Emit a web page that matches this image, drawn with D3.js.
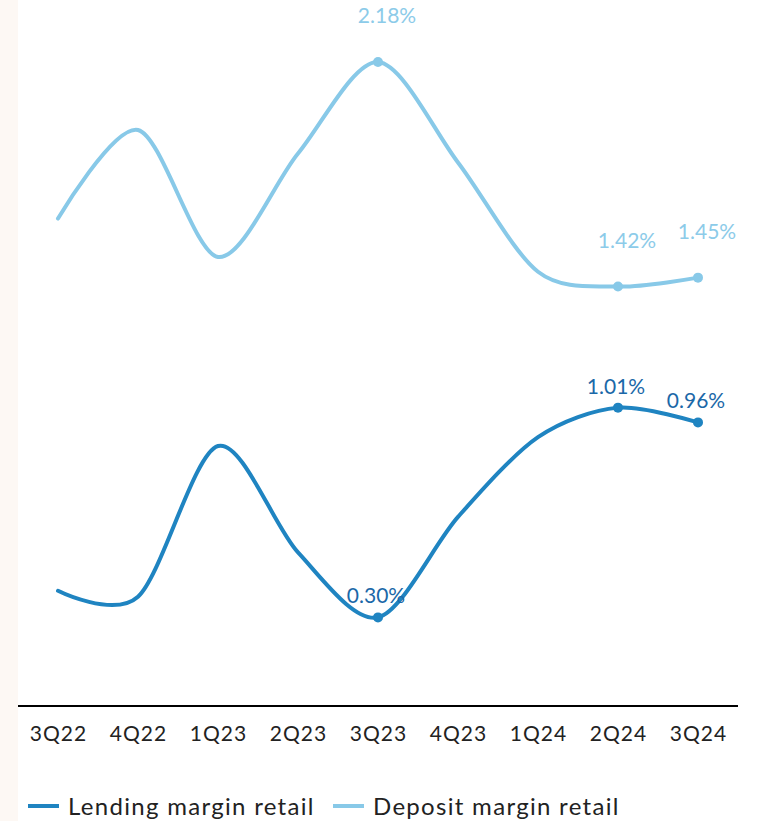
<!DOCTYPE html>
<html>
<head>
<meta charset="utf-8">
<script src="https://cdn.jsdelivr.net/npm/d3@7"></script>
<style>
  html, body { margin: 0; padding: 0; background: #ffffff; }
  svg { display: block; font-family: Lato, "Open Sans", sans-serif; }
</style>
</head>
<body>
<svg id="chart" width="761" height="821"></svg>
<script>
// Quarterly retail margins (%)
const quarters = ["3Q22", "4Q22", "1Q23", "2Q23", "3Q23", "4Q23", "1Q24", "2Q24", "3Q24"];
const lendingMargin = [0.39, 0.37, 0.88, 0.52, 0.30, 0.64, 0.91, 1.01, 0.96];
const depositMargin = [1.65, 1.95, 1.52, 1.87, 2.18, 1.84, 1.47, 1.42, 1.45];
// Quarters whose values are printed on the chart
const labelledQuarters = ["3Q23", "2Q24", "3Q24"];
const seriesNames = ["Lending margin retail", "Deposit margin retail"];

const W = 761, H = 821;
const plot = { left: 18, right: 738, top: 62, bottom: 706 };

const svg = d3.select("#chart");

// pale side strip
svg.append("rect").attr("x", 0).attr("y", 0).attr("width", 18).attr("height", H)
  .attr("fill", "#fdf8f4");

const x = d3.scalePoint().domain(quarters).range([plot.left, plot.right]).padding(0.5);
const y = d3.scaleLinear().domain([0, 2.18]).range([plot.bottom, plot.top]);

const series = [
  { name: seriesNames[0], values: lendingMargin, color: "#1f84c1", labelColor: "#1b68a8", labelDy: -14, labelDx: -2 },
  { name: seriesNames[1], values: depositMargin, color: "#88c9e8", labelColor: "#8ccbe9", labelDy: -39, labelDx: 9 }
];

const line = d3.line()
  .x((d, i) => x(quarters[i]))
  .y(d => y(d))
  .curve(d3.curveCardinal.tension(0.1));

series.forEach(s => {
  svg.append("path")
    .datum(s.values)
    .attr("d", line)
    .attr("fill", "none")
    .attr("stroke", s.color)
    .attr("stroke-width", 4)
    .attr("stroke-linecap", "round");

  const pts = quarters.map((q, i) => ({ q, v: s.values[i] }))
    .filter(p => labelledQuarters.includes(p.q));

  svg.selectAll(null).data(pts).enter().append("circle")
    .attr("cx", d => x(d.q)).attr("cy", d => y(d.v)).attr("r", 5)
    .attr("fill", s.color);

  svg.selectAll(null).data(pts).enter().append("text")
    .attr("x", d => x(d.q) + s.labelDx)
    .attr("y", d => y(d.v) + s.labelDy)
    .attr("text-anchor", "middle")
    .attr("font-size", 21)
    .attr("fill", s.labelColor)
    .text(d => d.v.toFixed(2) + "%");
});

// category axis
const xAxis = svg.append("g")
  .attr("transform", `translate(0,${plot.bottom})`)
  .call(d3.axisBottom(x).tickSize(0).tickPadding(20));
xAxis.select(".domain").attr("d", `M${plot.left},0H${plot.right}`)
  .attr("stroke", "#000").attr("stroke-width", 2);
xAxis.selectAll("text")
  .attr("font-size", 21)
  .attr("font-family", "Lato, sans-serif")
  .attr("letter-spacing", 1)
  .attr("fill", "#222");

// legend
const legend = svg.append("g").attr("transform", "translate(28,806)");
const legendX = [0, 305];
series.forEach((s, i) => {
  const g = legend.append("g").attr("transform", `translate(${legendX[i]},0)`);
  g.append("line").attr("x1", 0).attr("x2", 31).attr("y1", 0).attr("y2", 0)
    .attr("stroke", s.color).attr("stroke-width", 4);
  g.append("text").attr("x", 40).attr("y", 9)
    .attr("font-size", 24)
    .attr("letter-spacing", 1.3)
    .attr("fill", "#222")
    .text(s.name);
});
</script>
</body>
</html>
